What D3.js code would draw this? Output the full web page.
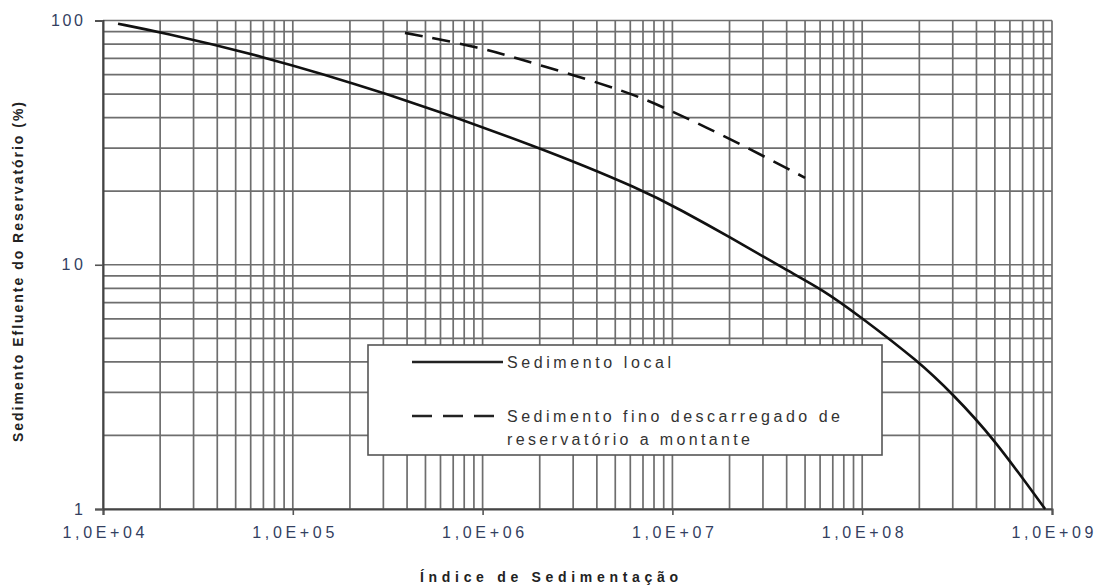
<!DOCTYPE html>
<html>
<head>
<meta charset="utf-8" />
<script src="https://cdn.jsdelivr.net/npm/d3@7"></script>
<title>Indice de Sedimentacao</title>
<style>
  body { margin: 0; background: #fff; }
  text { font-family: Arial, "Liberation Sans", sans-serif; }
</style>
</head>
<body>
<script>
// curve: x = indice de sedimentacao, y = % efluente
var localX = [1.2e4, 2e4, 6.7e4, 2.9e5, 2e6, 7e6, 1.1e7, 2e7, 4e7, 6.2e7, 9.6e7, 2e8, 3e8, 4.8e8, 9.2e8];
var localY = [97, 89.7, 72, 51.5, 30.3, 20.2, 16.8, 13, 9.5, 7.9, 6.2, 4.0, 2.95, 2.0, 1.0];

var finoX = [3.9e5, 9.6e5, 2e6, 5.9e6, 9.6e6, 1.5e7, 2.45e7, 5e7];
var finoY = [89, 78, 65.7, 51, 43, 36.6, 30.3, 22.7];

var xTicks = [1e4, 1e5, 1e6, 1e7, 1e8, 1e9];
var xTickLabels = ["1,0E+04", "1,0E+05", "1,0E+06", "1,0E+07", "1,0E+08", "1,0E+09"];
var yTicks = [1, 10, 100];
var yTickLabels = ["1", "10", "100"];

var legendLabels = ["Sedimento local", "Sedimento fino descarregado de", "reservatório a montante"];

var W = 1096, H = 586;
var mLeft = 103, mRight = 1052, mTop = 20.5, mBottom = 509;

var svg = d3.select("body").append("svg")
    .attr("width", W)
    .attr("height", H);

var x = d3.scaleLog().domain([1e4, 1e9]).range([mLeft, mRight]);
var y = d3.scaleLog().domain([1, 100]).range([mBottom, mTop]);

// minor + major grid values
var gridX = [], gridY = [];
for (var e = 4; e < 9; e++)
  for (var k = 1; k < 10; k++) gridX.push(k * Math.pow(10, e));
gridX.push(1e9);
for (var e = 0; e < 2; e++)
  for (var k = 1; k < 10; k++) gridY.push(k * Math.pow(10, e));
gridY.push(100);

var grid = svg.append("g").attr("stroke", "#6e6e6e").attr("stroke-width", 1.7);
grid.selectAll(".gx").data(gridX).enter().append("line")
    .attr("x1", function(d) { return x(d); })
    .attr("x2", function(d) { return x(d); })
    .attr("y1", mTop).attr("y2", mBottom);
grid.selectAll(".gy").data(gridY).enter().append("line")
    .attr("x1", mLeft).attr("x2", mRight)
    .attr("y1", function(d) { return y(d); })
    .attr("y2", function(d) { return y(d); });

// axes
var xAxis = d3.axisBottom(x).tickValues(xTicks)
    .tickFormat(function(d, i) { return xTickLabels[i]; })
    .tickSize(6).tickPadding(12);
var yAxis = d3.axisLeft(y).tickValues(yTicks)
    .tickFormat(function(d, i) { return yTickLabels[i]; })
    .tickSize(8).tickPadding(12);

var gx = svg.append("g").attr("transform", "translate(0," + mBottom + ")").call(xAxis);
var gy = svg.append("g").attr("transform", "translate(" + mLeft + ",0)").call(yAxis);

[gx, gy].forEach(function(g) {
  g.select(".domain").attr("stroke", "#444").attr("stroke-width", 2);
  g.selectAll(".tick line").attr("stroke", "#555").attr("stroke-width", 1.6);
  g.selectAll(".tick text")
    .attr("font-size", 16)
    .attr("fill", "#33405f")
    .attr("font-family", "Arial, 'Liberation Sans', sans-serif");
});
gx.selectAll(".tick text").attr("textLength", 82).attr("lengthAdjust", "spacing");
gy.selectAll(".tick text").attr("x", -20)
  .each(function(d, i) {
    var t = d3.select(this);
    if (yTickLabels[i].length > 1) t.attr("textLength", yTickLabels[i].length * 10.7).attr("lengthAdjust", "spacing");
  });

// curves
var line = d3.line()
    .x(function(d) { return x(d[0]); })
    .y(function(d) { return y(d[1]); })
    .curve(d3.curveBasis);

svg.append("path")
    .datum(d3.zip(localX, localY))
    .attr("d", line)
    .attr("fill", "none")
    .attr("stroke", "#111")
    .attr("stroke-width", 2.6);

svg.append("path")
    .datum(d3.zip(finoX, finoY))
    .attr("d", line)
    .attr("fill", "none")
    .attr("stroke", "#111")
    .attr("stroke-width", 2.6)
    .attr("stroke-dasharray", "18,10");

// legend
var lg = svg.append("g");
lg.append("rect")
    .attr("x", 368).attr("y", 345)
    .attr("width", 514).attr("height", 110)
    .attr("fill", "#fff")
    .attr("stroke", "#555")
    .attr("stroke-width", 1.6);
lg.append("line")
    .attr("x1", 412).attr("x2", 503).attr("y1", 362).attr("y2", 362)
    .attr("stroke", "#222").attr("stroke-width", 2.4);
lg.append("line")
    .attr("x1", 412).attr("x2", 494).attr("y1", 416).attr("y2", 416)
    .attr("stroke", "#222").attr("stroke-width", 2.4)
    .attr("stroke-dasharray", "20,11");

var legendPos = [[368, 164], [422, 333], [445, 243]];
lg.selectAll("text.lab").data(legendLabels).enter().append("text")
    .attr("x", 507)
    .attr("y", function(d, i) { return legendPos[i][0]; })
    .attr("textLength", function(d, i) { return legendPos[i][1]; })
    .attr("lengthAdjust", "spacing")
    .attr("font-size", 16)
    .attr("fill", "#333")
    .text(function(d) { return d; });

// axis titles
svg.append("text")
    .attr("x", 549).attr("y", 582)
    .attr("text-anchor", "middle")
    .attr("font-size", 14)
    .attr("font-weight", "bold")
    .attr("fill", "#222")
    .attr("textLength", 258).attr("lengthAdjust", "spacing")
    .text("Índice de Sedimentação");

svg.append("text")
    .attr("transform", "translate(23,272) rotate(-90)")
    .attr("text-anchor", "middle")
    .attr("font-size", 14)
    .attr("font-weight", "bold")
    .attr("fill", "#222")
    .attr("textLength", 340).attr("lengthAdjust", "spacing")
    .text("Sedimento Efluente do Reservatório (%)");
</script>
</body>
</html>
